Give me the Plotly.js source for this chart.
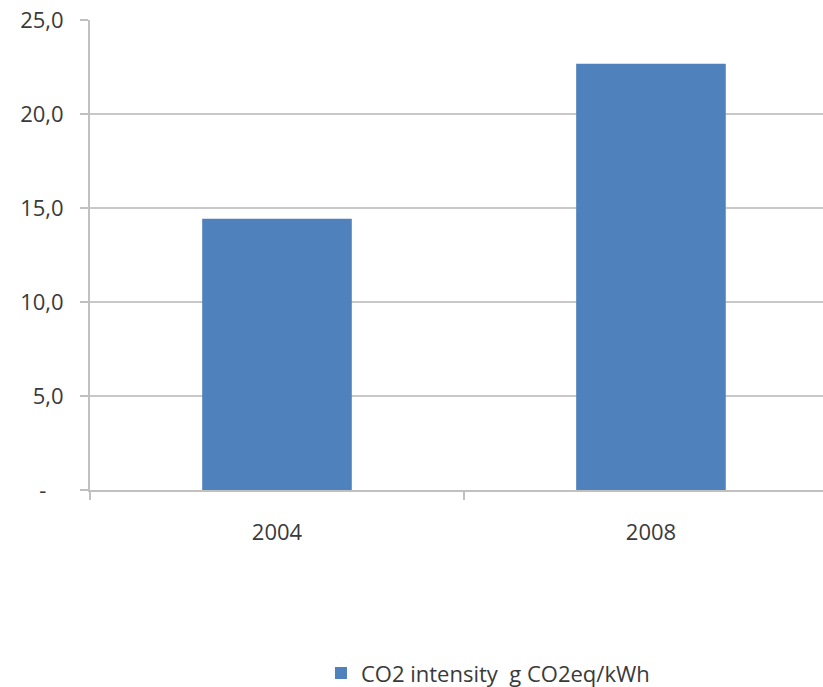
<!DOCTYPE html>
<html>
<head>
<meta charset="utf-8">
<script src="https://cdn.plot.ly/plotly-3.0.1.min.js"></script>
<style>html,body{margin:0;padding:0;background:#fff;}#chart{width:823px;height:687px;}</style>
</head>
<body>
<div id="chart"></div>
<script>
const categories = ["2004", "2008"];
const values = [14.43, 22.67];
const seriesName = "CO2 intensity  g CO2eq/kWh";
const yTickVals = [0, 5, 10, 15, 20, 25];
const yTickText = ["-\u00a0\u00a0\u00a0", "5,0", "10,0", "15,0", "20,0", "25,0"];

const font = {family: "Open Sans, Noto Sans, sans-serif", size: 22, color: "#3a3a3a"};

Plotly.newPlot("chart", [{
  type: "bar",
  x: categories,
  y: values,
  name: seriesName,
  width: 0.4,
  marker: {color: "#4F81BD"},
  showlegend: true
}], {
  width: 823, height: 687,
  margin: {l: 90, r: 0, t: 20, b: 197, pad: 0},
  paper_bgcolor: "#fff", plot_bgcolor: "#fff",
  font: font,
  showlegend: true,
  legend: {orientation: "h", xref: "container", yref: "container", x: 0.39, xanchor: "left", y: 0.02, yanchor: "middle", font: font},
  xaxis: {
    type: "category", range: [-0.5, 1.46], showgrid: false, zeroline: false,
    showline: true, linecolor: "#c0c0c0", linewidth: 2,
    ticks: "outside", tickson: "boundaries", ticklen: 8, tickcolor: "#c0c0c0", tickwidth: 2,
    ticklabelstandoff: 22, tickfont: font
  },
  yaxis: {
    range: [0, 25], tickvals: yTickVals, ticktext: yTickText,
    showgrid: true, gridcolor: "#c8c8c8", gridwidth: 2, zeroline: false,
    showline: true, linecolor: "#c0c0c0", linewidth: 2,
    ticks: "outside", ticklen: 8, tickcolor: "#c0c0c0", tickwidth: 2,
    ticklabelstandoff: 12, tickfont: font
  }
}, {displayModeBar: false, staticPlot: true});
</script>
</body>
</html>
